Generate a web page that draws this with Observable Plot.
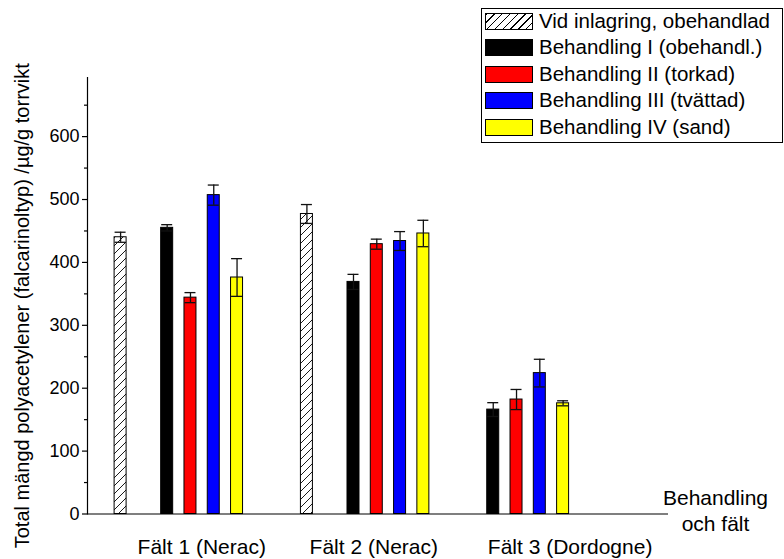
<!DOCTYPE html>
<html>
<head>
<meta charset="utf-8">
<script src="https://cdn.jsdelivr.net/npm/d3@7"></script>
<script src="https://cdn.jsdelivr.net/npm/@observablehq/plot@0.6"></script>
<style>
  html, body { margin: 0; padding: 0; background: #fff; }
  #wrap { position: relative; width: 784px; height: 559px; font-family: "Liberation Sans", Arial, sans-serif; }
  #legend { position: absolute; left: 481px; top: 8px; width: 302px; height: 135px; border: 1px solid #000; box-sizing: border-box; background: #fff; }
  .row { position: absolute; left: 3px; height: 17px; }
  .sw { position: absolute; left: 0; top: 0; width: 48px; height: 17px; border: 1px solid #000; box-sizing: border-box; }
  .lb { position: absolute; left: 54px; top: -4px; font-size: 20.5px; line-height: 24px; white-space: nowrap; color: #000; }
</style>
</head>
<body>
<div id="wrap"><div id="legend"></div></div>
<script>
// ---- data ----
const fields = ["Fält 1 (Nerac)", "Fält 2 (Nerac)", "Fält 3 (Dordogne)"];
const seriesNames = [
  "Vid inlagring, obehandlad",
  "Behandling I (obehandl.)",
  "Behandling II (torkad)",
  "Behandling III (tvättad)",
  "Behandling IV (sand)"
];
const vidInlagring = [440, 477, null];
const behandlingI   = [455, 369, 166];
const behandlingII  = [344, 429, 182];
const behandlingIII = [507, 434, 224];
const behandlingIV  = [376, 446, 176];
const errVid  = [8, 15, null];
const errI    = [5, 12, 11];
const errII   = [8, 8, 16];
const errIII  = [16, 15, 22];
const errIV   = [30, 21, 4];
const yTicks = [0, 100, 200, 300, 400, 500, 600];
const yMinorTicks = [50, 150, 250, 350, 450, 550, 650];
const yTitle = "Total mängd polyacetylener (falcarinoltyp) /µg/g torrvikt";
const xTitle = "Behandling\noch fält";

// ---- styles ----
const seriesFills = ["url(#hatch)", "#000000", "#ff0000", "#0000ff", "#ffff00"];
const legendFills = [
  "repeating-linear-gradient(135deg, #000 0 1px, #fff 1px 5.5px)",
  "#000000", "#ff0000", "#0000ff", "#ffff00"
];

const valueLists = [vidInlagring, behandlingI, behandlingII, behandlingIII, behandlingIV];
const errLists = [errVid, errI, errII, errIII, errIV];

const rows = [];
const slots = [];
fields.forEach((f, fi) => {
  if (fi > 0) slots.push(`gap${fi}a`, `gap${fi}b`);
  seriesNames.forEach((s, si) => {
    const v = valueLists[si][fi];
    if (v == null) return;
    const key = `${fi}-${si}`;
    rows.push({field: f, series: s, key, value: v, err: errLists[si][fi]});
    slots.push(key);
    if (si === 0) slots.push(`gap${fi}h`);
  });
});

const font = "Liberation Sans, Arial, sans-serif";

const plot = Plot.plot({
  width: 784,
  height: 559,
  marginLeft: 87,
  marginRight: 116,
  marginTop: 77,
  marginBottom: 45.5,
  style: {fontFamily: font, color: "#000", background: "transparent", overflow: "visible"},
  x: {type: "band", domain: slots, range: [114.1, 568.6], paddingInner: 0.485, paddingOuter: 0, align: 0, round: false, axis: null},
  y: {domain: [0, 694], axis: null},
  color: {domain: seriesNames, range: seriesFills},
  marks: [
    Plot.barY(rows, {x: "key", y: "value", fill: "series", stroke: "#000", strokeWidth: 1}),
    Plot.ruleX(rows, {x: "key", y1: d => d.value - d.err, y2: d => d.value + d.err, stroke: "#111", strokeWidth: 1.3}),
    Plot.tickY(rows, {x: "key", y: d => d.value + d.err, stroke: "#111", strokeWidth: 1.3, inset: 0.5}),
    Plot.tickY(rows, {x: "key", y: d => d.value - d.err, stroke: "#111", strokeWidth: 1.3, inset: 0.5}),
    Plot.ruleY([0], {stroke: "#000", strokeWidth: 1.2}),
    Plot.frame({anchor: "left", stroke: "#000", strokeWidth: 1.2}),
    Plot.axisY({ticks: yTicks, tickSize: 5, tickPadding: 3, fontSize: 18, label: null, stroke: "#000", strokeWidth: 1.2}),
    Plot.axisY({ticks: yMinorTicks, tickSize: 3, tickFormat: () => "", label: null, stroke: "#000", strokeWidth: 1.2}),
    Plot.text([yTitle], {frameAnchor: "left", textAnchor: "middle", lineAnchor: "middle", rotate: -90, dx: -65, dy: 10, fontSize: 20, fill: "#000"}),
    Plot.text([xTitle], {frameAnchor: "bottom-right", textAnchor: "middle", dx: 47, dy: 17, fontSize: 21, lineHeight: 1.25, fill: "#000"}),
    Plot.text([fields[0]], {x: [`0-3`], frameAnchor: "bottom", dy: 40, dx: -12, fontSize: 21, fill: "#000"}),
    Plot.text([fields[1]], {x: [`1-2`], frameAnchor: "bottom", dy: 40, dx: -3, fontSize: 21, fill: "#000"}),
    Plot.text([fields[2]], {x: [`2-4`], frameAnchor: "bottom", dy: 40, dx: 7, fontSize: 21, fill: "#000"})
  ]
});

// hatch pattern
const ns = "http://www.w3.org/2000/svg";
const defs = document.createElementNS(ns, "defs");
defs.innerHTML = `<pattern id="hatch" patternUnits="userSpaceOnUse" width="8" height="8">
  <rect width="8" height="8" fill="#fff"/>
  <path d="M0,8 L8,0 M-2,2 L2,-2 M6,10 L10,6" stroke="#000" stroke-width="0.9"/>
</pattern>`;
plot.insertBefore(defs, plot.firstChild);

const wrap = document.getElementById("wrap");
wrap.insertBefore(plot, wrap.firstChild);
plot.style.position = "absolute";
plot.style.left = "0";
plot.style.top = "0";

// legend
const legend = document.getElementById("legend");
seriesNames.forEach((s, i) => {
  const row = document.createElement("div");
  row.className = "row";
  row.style.top = (4 + i * 26.4) + "px";
  const sw = document.createElement("div");
  sw.className = "sw";
  sw.style.background = legendFills[i];
  const lb = document.createElement("div");
  lb.className = "lb";
  lb.textContent = s;
  row.appendChild(sw);
  row.appendChild(lb);
  legend.appendChild(row);
});
</script>
</body>
</html>
